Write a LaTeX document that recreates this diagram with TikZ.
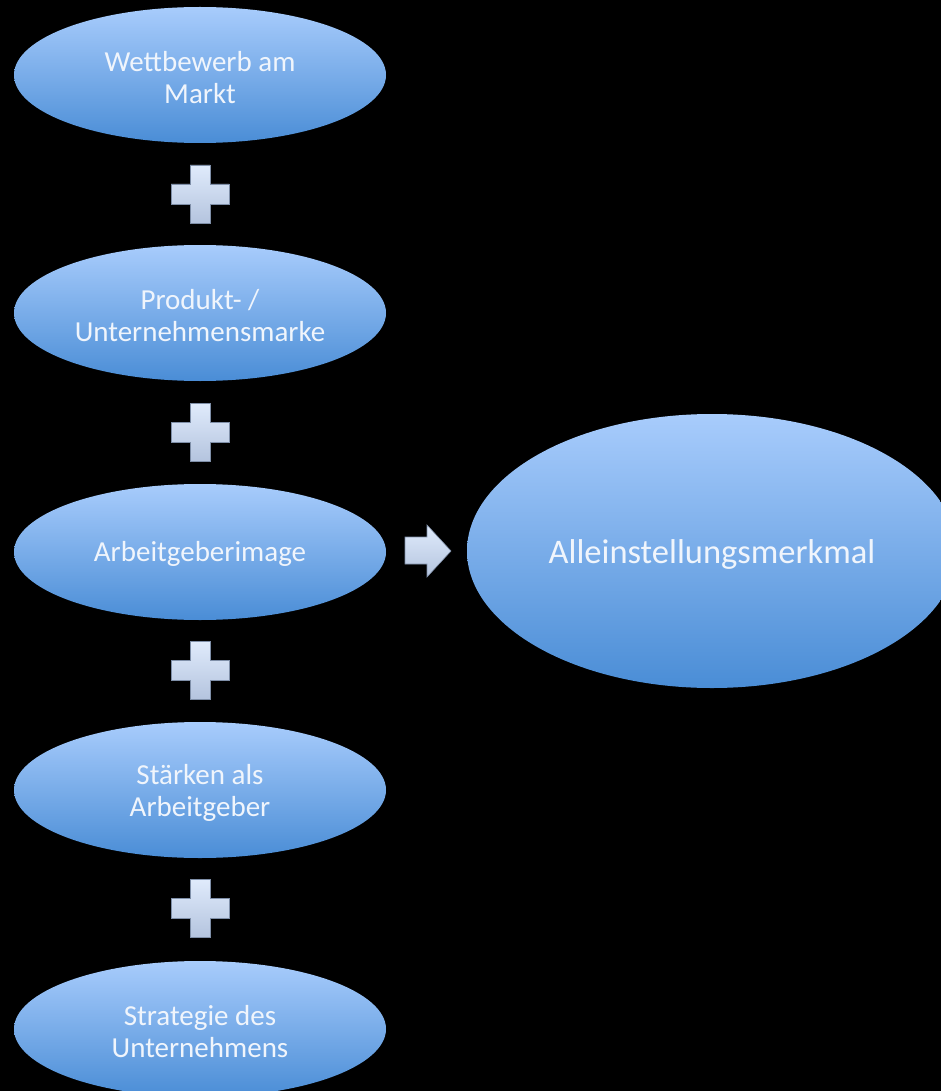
\documentclass[tikz,border=0pt]{standalone}
\usepackage{fontspec}
\setmainfont{Carlito}
\usetikzlibrary{shapes.geometric}
\definecolor{elltop}{HTML}{A8CCFC}
\definecolor{ellbot}{HTML}{4A8DD6}
\definecolor{txt}{HTML}{F0F5FC}
\definecolor{symtop}{HTML}{E0EBFC}
\definecolor{symbot}{HTML}{B4C4DE}
\definecolor{symedge}{HTML}{7F8FA8}
\tikzset{
  oval/.style={ellipse, inner sep=0pt, minimum width=372pt, minimum height=136pt,
    top color=elltop, bottom color=ellbot, draw=none},
  ovaltext/.style={text=txt, align=center, inner sep=0pt,
    font=\fontsize{29}{32}\selectfont},
  bigoval/.style={ellipse, inner sep=0pt, minimum width=490pt, minimum height=274pt,
    top color=elltop, bottom color=ellbot, draw=none},
  bigtext/.style={text=txt, inner sep=0pt, font=\fontsize{34.5}{40}\selectfont},
  plussym/.style={top color=symtop, bottom color=symbot, draw=symedge, line width=0.6pt},
}
\begin{document}
\begin{tikzpicture}[x=1pt,y=-1pt]
\path[fill=black, use as bounding box] (0,0) rectangle (941,1091);
\node[oval] (n1) at (200,75) {};
\node[oval] (n2) at (200,313) {};
\node[oval] (n3) at (200,552) {};
\node[oval] (n4) at (200,790) {};
\node[oval] (n5) at (200,1029) {};
\node[bigoval] (big) at (712,551) {};
\node[ovaltext] (t1) at ([yshift=-3pt]n1.center) {Wettbewerb am\\Markt};
\node[ovaltext] (t2) at ([yshift=-3pt]n2.center) {Produkt- /\\Unternehmensmarke};
\node[ovaltext] (t3) at ([yshift=-2pt]n3.center) {Arbeitgeberimage};
\node[ovaltext] (t4) at ([yshift=-3pt]n4.center) {Stärken als\\Arbeitgeber};
\node[ovaltext] (t5) at ([yshift=-3pt]n5.center) {Strategie des\\Unternehmens};
\node[bigtext] (tb) at ([yshift=-3pt]big.center) {Alleinstellungsmerkmal};
\foreach \yy in {194,432,670,908} {
  \path[plussym, shift={(200,\yy)}] (-10,-29) -- (10,-29) -- (10,-10) -- (29,-10) -- (29,10)
    -- (10,10) -- (10,29) -- (-10,29) -- (-10,10) -- (-29,10) -- (-29,-10) -- (-10,-10) -- cycle;
}
\path[plussym] (405,537) -- (427,537) -- (427,525) -- (451,551) -- (427,577) -- (427,564) -- (405,564) -- cycle;
\end{tikzpicture}
\end{document}
